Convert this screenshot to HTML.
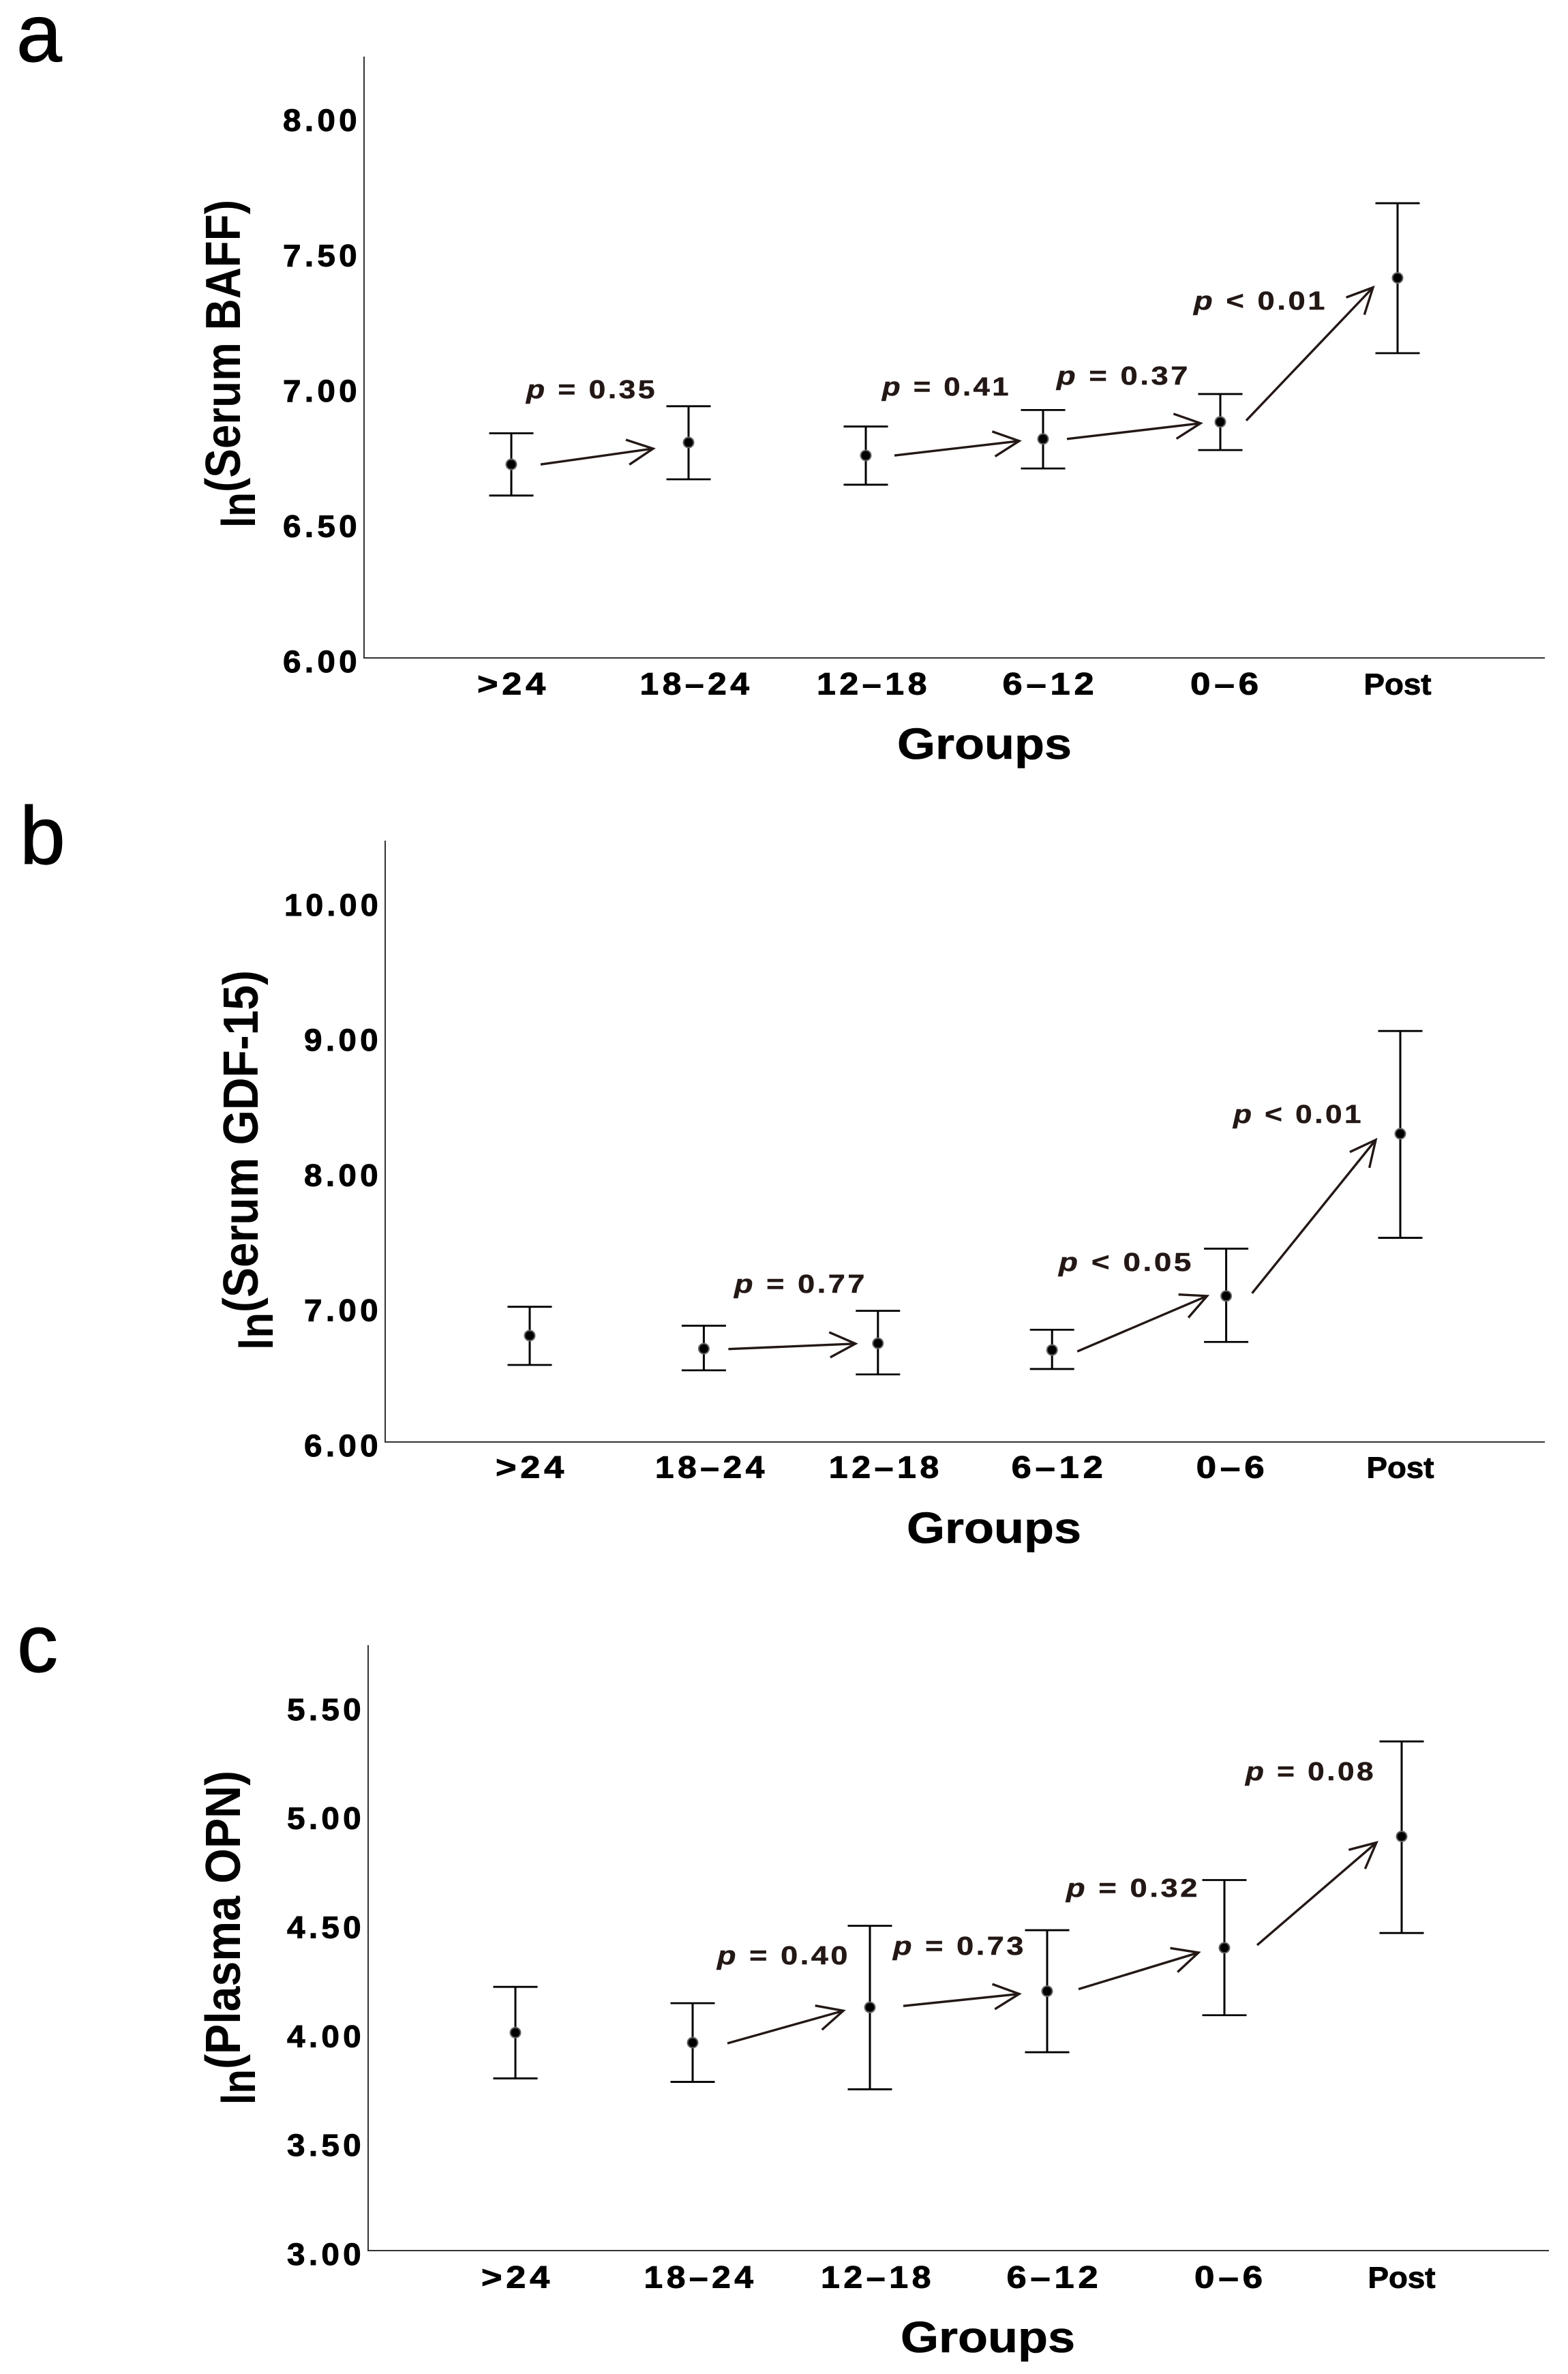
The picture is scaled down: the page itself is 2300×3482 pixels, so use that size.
<!DOCTYPE html>
<html lang="en">
<head>
<meta charset="utf-8">
<title>Biomarker levels by group</title>
<style>
html,body{margin:0;padding:0;background:#fff;}
svg{display:block;}
text{font-family:"Liberation Sans",Arial,sans-serif;}
</style>
</head>
<body>
<svg id="figure" xmlns="http://www.w3.org/2000/svg" width="2300" height="3482" viewBox="0 0 2300 3482">
  <rect x="0" y="0" width="2300" height="3482" fill="#fff"/>
  <text x="24" y="90" font-size="120" fill="#000" stroke="#000" stroke-width="1.2">a</text>
  <text x="29" y="1267" font-size="120" fill="#000" stroke="#000" stroke-width="1.2">b</text>
  <text x="25" y="2452" font-size="120" fill="#000" stroke="#000" stroke-width="1.2">c</text>
</svg>
<script>
// ---- shared categories ----
const categories = [">24", "18–24", "12–18", "6–12", "0–6", "Post"];

// ---- panel a: ln(Serum BAFF) ----
const aTicks = ["6.00", "6.50", "7.00", "7.50", "8.00"];
const aMeans = [6.715, 6.796, 6.748, 6.809, 6.872, 7.404];
const aUpper = [6.83, 6.93, 6.855, 6.916, 6.975, 7.68];
const aLower = [6.60, 6.66, 6.64, 6.70, 6.768, 7.126];
const aPValues = ["= 0.35", "= 0.41", "= 0.37", "< 0.01"];

// ---- panel b: ln(Serum GDF-15) ----
const bTicks = ["6.00", "7.00", "8.00", "9.00", "10.00"];
const bMeans = [6.787, 6.69, 6.73, 6.68, 7.08, 8.28];
const bUpper = [7.00, 6.86, 6.97, 6.83, 7.43, 9.04];
const bLower = [6.57, 6.53, 6.50, 6.54, 6.74, 7.51];
const bPValues = ["= 0.77", "< 0.05", "< 0.01"];

// ---- panel c: ln(Plasma OPN) ----
const cTicks = ["3.00", "3.50", "4.00", "4.50", "5.00", "5.50"];
const cMeans = [4.00, 3.954, 4.116, 4.19, 4.389, 4.90];
const cUpper = [4.21, 4.135, 4.49, 4.47, 4.70, 5.336];
const cLower = [3.79, 3.774, 3.74, 3.91, 4.08, 4.457];
const cPValues = ["= 0.40", "= 0.73", "= 0.32", "= 0.08"];

// ---- annotation layout (not data): arrows link group indices, with gaps around the points ----
const aArrowLinks = [
  {from:0,to:1,gapS:43,dyS:0,gapE:52,dyE:9,left:772,right:961,base:584},
  {from:2,to:3,gapS:42,dyS:0,gapE:35,dyE:3,left:1294,right:1480,base:580},
  {from:3,to:4,gapS:35,dyS:0,gapE:29,dyE:2,left:1550,right:1743,base:564},
  {from:4,to:5,gapS:38,dyS:-2,gapE:36,dyE:14,left:1751,right:1944,base:454}
];
const bArrowLinks = [
  {from:1,to:2,gapS:36,dyS:0.5,gapE:33,dyE:0.6,left:1077,right:1269,base:1896},
  {from:3,to:4,gapS:37,dyS:2,gapE:28,dyE:0,left:1553,right:1748,base:1864},
  {from:4,to:5,gapS:38,dyS:-4,gapE:36,dyE:9,left:1809,right:1997,base:1647}
];
const cArrowLinks = [
  {from:1,to:2,gapS:51,dyS:1,gapE:39,dyE:5,left:1052,right:1244,base:2881},
  {from:2,to:3,gapS:49,dyS:-2,gapE:41,dyE:4,left:1310,right:1502,base:2867},
  {from:3,to:4,gapS:46,dyS:-3,gapE:38,dyE:7,left:1564,right:1757,base:2782},
  {from:4,to:5,gapS:48,dyS:-4,gapE:37,dyE:9,left:1827,right:2015,base:2611}
];

const categoryLabelWidths = [106, 166, 167, 140, 106, 99];
const categoryLabelShifts = [1, 9.5, 9.5, 8.5, 7, 0];

const NS = "http://www.w3.org/2000/svg";
const svg = document.getElementById("figure");

function mk(parent, tag, attrs, name) {
  const el = document.createElementNS(NS, tag);
  for (const k in attrs) el.setAttribute(k, attrs[k]);
  
  
  parent.appendChild(el);
  return el;
}

function stretchedText(parent, str, x, y, width, size, spacing, name, transform, weightStroke) {
  const attrs = {x:x, y:y, "font-size":size, "font-weight":"bold", fill:"#000",
    textLength:width, lengthAdjust:"spacingAndGlyphs"};
  if (spacing) attrs.style = "letter-spacing:" + spacing + "px";
  if (transform) attrs.transform = transform;
  if (weightStroke) {
    attrs.stroke = "#000";
    attrs["stroke-width"] = weightStroke;
  }
  const t = mk(parent, "text", attrs, name);
  t.textContent = str;
  return t;
}

function drawPanel(p) {
  const g = mk(svg, "g", {}, "chart-" + p.id);
  const xPos = function (i) { return p.x0 + i * p.step; };
  const yPos = function (v) { return p.axisBottom - (v - p.vMin) * p.pxPerUnit; };

  mk(g, "line", {x1:p.axisX, y1:p.axisTop, x2:p.axisX, y2:p.axisBottom + 1, stroke:"#333", "stroke-width":2}, "y-axis-line");
  mk(g, "line", {x1:p.axisX, y1:p.axisBottom, x2:p.axisRight, y2:p.axisBottom, stroke:"#333", "stroke-width":2}, "x-axis-line");

  p.ticks.forEach(function (lab) {
    const w = lab.length > 4 ? 143 : 114;
    stretchedText(g, lab, p.tickRight - w + 5, yPos(parseFloat(lab)) + 21, w, 45, 5, "y-tick-label", null, 0.9);
  });

  categories.forEach(function (lab, i) {
    const w = categoryLabelWidths[i];
    const cx = xPos(i) + categoryLabelShifts[i];
    const isWord = lab === "Post";
    stretchedText(g, lab, cx - w / 2 + (isWord ? 0 : 2), p.catBase, w, isWord ? 44 : 45, isWord ? 0 : 5, "x-tick-label", null, 0.9);
  });

  stretchedText(g, "Groups", p.groupsX, p.groupsBase, 256, 64, 0, "x-axis-title", null, 0.6);

  stretchedText(g, "ln", p.tLnX, p.tLnBottom, p.tLnBottom - p.tMainBottom, 70, 0, "y-axis-title-ln",
    "rotate(-90 " + p.tLnX + " " + p.tLnBottom + ")");
  stretchedText(g, p.title, p.tMainX, p.tMainBottom, p.tMainBottom - p.tMainTop, 72, 0, "y-axis-title",
    "rotate(-90 " + p.tMainX + " " + p.tMainBottom + ")");

  categories.forEach(function (lab, i) {
    const eg = mk(g, "g", {}, "error-bar-group-" + i);
    const x = xPos(i), yU = yPos(p.upper[i]), yL = yPos(p.lower[i]), yM = yPos(p.means[i]);
    mk(eg, "line", {x1:x, y1:yU, x2:x, y2:yL, stroke:"#000", "stroke-width":3}, "error-bar-stem");
    mk(eg, "line", {x1:x - 32.5, y1:yU, x2:x + 32.5, y2:yU, stroke:"#000", "stroke-width":2.8}, "error-bar-upper-cap");
    mk(eg, "line", {x1:x - 32.5, y1:yL, x2:x + 32.5, y2:yL, stroke:"#000", "stroke-width":2.8}, "error-bar-lower-cap");
    mk(eg, "circle", {cx:x, cy:yM, r:8.5, fill:"#666"}, "mean-point-halo");
    mk(eg, "circle", {cx:x, cy:yM, r:6.5, fill:"#000"}, "mean-point");
  });

  p.links.forEach(function (a, i) {
    const ag = mk(g, "g", {}, "p-value-arrow-" + i);
    const x1 = xPos(a.from) + a.gapS, y1 = yPos(p.means[a.from]) + a.dyS;
    const x2 = xPos(a.to) - a.gapE, y2 = yPos(p.means[a.to]) + a.dyE;
    const ang = Math.atan2(y1 - y2, x1 - x2);
    const barb = 42, spread = 26 * Math.PI / 180;
    const style = {stroke:"#231815", "stroke-width":3.4, fill:"none"};
    mk(ag, "line", Object.assign({x1:x1, y1:y1, x2:x2, y2:y2}, style), "arrow-shaft");
    mk(ag, "path", Object.assign({d:"M" + (x2 + barb * Math.cos(ang + spread)) + " " + (y2 + barb * Math.sin(ang + spread)) +
      "L" + x2 + " " + y2 +
      "L" + (x2 + barb * Math.cos(ang - spread)) + " " + (y2 + barb * Math.sin(ang - spread))}, style), "arrow-head");

    const t = mk(g, "text", {x:a.left, y:a.base, "font-size":38, "font-weight":"bold", fill:"#231815",
      stroke:"#231815", "stroke-width":0.5,
      style:"letter-spacing:3px", textLength:a.right - a.left + 3, lengthAdjust:"spacingAndGlyphs"}, "p-value-label");
    const it = mk(t, "tspan", {"font-style":"italic"}, "p-symbol");
    it.textContent = "p";
    const rest = mk(t, "tspan", {}, "p-value-text");
    rest.textContent = " " + p.pvals[i];
  });
}

drawPanel({id:"a", title:"(Serum BAFF)", ticks:aTicks, means:aMeans, upper:aUpper, lower:aLower, pvals:aPValues, links:aArrowLinks,
  vMin:6, pxPerUnit:397, x0:750, step:260, axisX:534, axisTop:83, axisBottom:965, axisRight:2266, tickRight:524,
  catBase:1018.5, groupsX:1316, groupsBase:1113, tLnX:374, tLnBottom:774, tMainX:352, tMainBottom:722, tMainTop:293});

drawPanel({id:"b", title:"(Serum GDF-15)", ticks:bTicks, means:bMeans, upper:bUpper, lower:bLower, pvals:bPValues, links:bArrowLinks,
  vMin:6, pxPerUnit:198.3, x0:777, step:255.4, axisX:565, axisTop:1233, axisBottom:2115, axisRight:2266, tickRight:555,
  catBase:2167.5, groupsX:1330, groupsBase:2263, tLnX:400, tLnBottom:1980, tMainX:378, tMainBottom:1925, tMainTop:1423});

drawPanel({id:"c", title:"(Plasma OPN)", ticks:cTicks, means:cMeans, upper:cUpper, lower:cLower, pvals:cPValues, links:cArrowLinks,
  vMin:3, pxPerUnit:319.7, x0:756, step:260, axisX:540, axisTop:2413, axisBottom:3301, axisRight:2272, tickRight:530,
  catBase:3355.5, groupsX:1321, groupsBase:3450, tLnX:374, tLnBottom:3087, tMainX:352, tMainBottom:3035, tMainTop:2597});
</script>
</body>
</html>
